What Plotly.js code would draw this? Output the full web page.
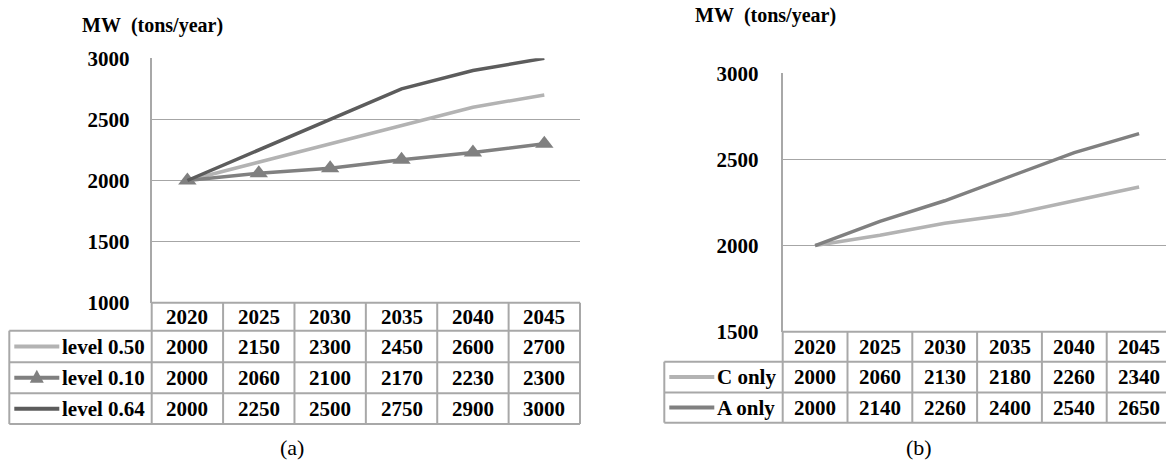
<!DOCTYPE html>
<html>
<head>
<meta charset="utf-8">
<script src="https://cdn.plot.ly/plotly-3.0.1.min.js"></script>
<style>
  html, body { margin: 0; padding: 0; background: #fff; }
  #chart { width: 1166px; height: 464px; }
</style>
</head>
<body>
<div id="chart"></div>
<script>
// Years shared by both panels
const years = ['2020', '2025', '2030', '2035', '2040', '2045'];

// Panel (a): MW under three levels
const seriesA = ['level 0.50', 'level 0.10', 'level 0.64'];
const level050 = [2000, 2150, 2300, 2450, 2600, 2700];
const level010 = [2000, 2060, 2100, 2170, 2230, 2300];
const level064 = [2000, 2250, 2500, 2750, 2900, 3000];

// Panel (b): MW for the single-factor cases
const seriesB = ['C only', 'A only'];
const cOnly = [2000, 2060, 2130, 2180, 2260, 2340];
const aOnly = [2000, 2140, 2260, 2400, 2540, 2650];

// Value axis ticks
const yTicksA = [1000, 1500, 2000, 2500, 3000];
const yTicksB = [1500, 2000, 2500, 3000];

const W = 1166, H = 464;
const px = v => v / W;          // pixel -> paper x
const py = v => 1 - v / H;      // pixel -> paper y

const serif = 'Liberation Serif';
const boldFont = { family: serif, size: 21, color: '#000', weight: 'bold' };
const gridCol = '#a6a6a6';
const tableCol = '#a8a8a8';

const colorsA = ['#b3b3b3', '#808080', '#5c5c5c'];
const colorsB = ['#b3b3b3', '#808080'];

// Panel geometry (pixels)
const A = { left: 151.7, right: 580, top: 58.3, bottom: 302.7,
            rows: [302.7, 330.7, 362.3, 393.3, 424], legLeft: 9.3,
            xr: [-0.5, 5.5], standoff: 16 };
const B = { left: 782.7, right: 1166, top: 73.3, bottom: 331.7,
            rows: [331.7, 361.7, 392.5, 422.7], legLeft: 664.3,
            xr: [-0.5, 5.415], standoff: 18 };
[A, B].forEach(p => {
  p.colW = (p.right - p.left) / (p.xr[1] - p.xr[0]);
});

const traces = [
  { x: years, y: level050, name: seriesA[0], xaxis: 'x', yaxis: 'y', mode: 'lines',
    line: { color: colorsA[0], width: 3.5 } },
  { x: years, y: level010, name: seriesA[1], xaxis: 'x', yaxis: 'y', mode: 'lines+markers',
    line: { color: colorsA[1], width: 3.5 },
    marker: { symbol: 'triangle-up', size: 16, color: colorsA[1] } },
  { x: years, y: level064, name: seriesA[2], xaxis: 'x', yaxis: 'y', mode: 'lines',
    line: { color: colorsA[2], width: 3.5 } },
  { x: years, y: cOnly, name: seriesB[0], xaxis: 'x2', yaxis: 'y2', mode: 'lines',
    line: { color: colorsB[0], width: 3.5 } },
  { x: years, y: aOnly, name: seriesB[1], xaxis: 'x2', yaxis: 'y2', mode: 'lines',
    line: { color: colorsB[1], width: 3.5 } }
];

const shapes = [];
const annotations = [];

function hline(x0, x1, y) {
  shapes.push({ type: 'line', xref: 'paper', yref: 'paper',
    x0: px(x0), x1: px(x1), y0: py(y), y1: py(y),
    line: { color: tableCol, width: 2 } });
}
function vline(x, y0, y1) {
  shapes.push({ type: 'line', xref: 'paper', yref: 'paper',
    x0: px(x), x1: px(x), y0: py(y0), y1: py(y1),
    line: { color: tableCol, width: 2 } });
}

// Data table under a panel: header of years, one row per series.
// Cell text sits on the category axis (index j = column of years[j]).
function buildTable(p, xref, names, data, colors, markers) {
  const rows = p.rows;
  const last = rows[rows.length - 1];
  hline(p.left, Math.min(p.right, W), rows[0]);
  for (let i = 1; i < rows.length; i++) hline(p.legLeft, Math.min(p.right, W), rows[i]);
  vline(p.legLeft, rows[1], last);
  for (let k = 0; k <= years.length; k++) {
    const x = p.left + k * p.colW;
    if (x <= W) vline(x, rows[0], last);
  }
  years.forEach((yr, j) => {
    annotations.push({ xref: xref, yref: 'paper', x: j, y: py((rows[0] + rows[1]) / 2),
      text: yr, showarrow: false, font: boldFont, xanchor: 'center', yanchor: 'middle' });
  });
  names.forEach((nm, i) => {
    const yc = (rows[i + 1] + rows[i + 2]) / 2;
    const sx0 = p.legLeft + 5, sx1 = p.legLeft + 50;
    shapes.push({ type: 'line', xref: 'paper', yref: 'paper',
      x0: px(sx0), x1: px(sx1), y0: py(yc), y1: py(yc),
      line: { color: colors[i], width: 4 } });
    if (markers[i]) {
      const cx = (sx0 + sx1) / 2;
      shapes.push({ type: 'path', xref: 'paper', yref: 'paper',
        path: `M ${px(cx - 7)} ${py(yc + 5)} L ${px(cx + 7)} ${py(yc + 5)} L ${px(cx)} ${py(yc - 8)} Z`,
        fillcolor: colors[i], line: { width: 0 } });
    }
    annotations.push({ xref: 'paper', yref: 'paper', x: px(sx1 + 1), y: py(yc),
      text: nm, showarrow: false, font: boldFont, xanchor: 'left', yanchor: 'middle' });
    data[i].forEach((v, j) => {
      annotations.push({ xref: xref, yref: 'paper', x: j, y: py(yc),
        text: String(v), showarrow: false, font: boldFont, xanchor: 'center', yanchor: 'middle' });
    });
  });
}

buildTable(A, 'x', seriesA, [level050, level010, level064], colorsA, [false, true, false]);
buildTable(B, 'x2', seriesB, [cOnly, aOnly], colorsB, [false, false]);

// Axis titles and panel captions
const titleFont = { family: serif, size: 20, color: '#000', weight: 'bold' };
annotations.push({ xref: 'paper', yref: 'paper', x: px(80), y: py(25), text: 'MW\u00a0 (tons/year)',
  showarrow: false, font: titleFont, xanchor: 'left', yanchor: 'middle' });
annotations.push({ xref: 'paper', yref: 'paper', x: px(693), y: py(15), text: 'MW\u00a0 (tons/year)',
  showarrow: false, font: titleFont, xanchor: 'left', yanchor: 'middle' });
const capFont = { family: serif, size: 22, color: '#000' };
annotations.push({ xref: 'paper', yref: 'paper', x: px(292), y: py(447), text: '(a)',
  showarrow: false, font: capFont, xanchor: 'center', yanchor: 'middle' });
annotations.push({ xref: 'paper', yref: 'paper', x: px(919), y: py(447), text: '(b)',
  showarrow: false, font: capFont, xanchor: 'center', yanchor: 'middle' });

function xAxis(p) {
  return { domain: [px(p.left), px(p.right)], range: p.xr, type: 'category',
    categoryorder: 'array', categoryarray: years,
    showticklabels: false, showgrid: false, zeroline: false, showline: false,
    ticks: '', fixedrange: true };
}
function yAxis(p, ticks, xa) {
  return { domain: [py(p.bottom), py(p.top)], range: [ticks[0], ticks[ticks.length - 1]],
    tickvals: ticks, ticktext: ticks.map(String), anchor: xa,
    showgrid: true, gridcolor: gridCol, gridwidth: 1.5,
    showline: true, linecolor: tableCol, linewidth: 2,
    zeroline: false, ticks: '', ticklabelstandoff: p.standoff,
    tickfont: boldFont, fixedrange: true };
}

const layout = {
  width: W, height: H, autosize: false,
  margin: { l: 0, r: 0, t: 0, b: 0 },
  paper_bgcolor: '#fff', plot_bgcolor: 'rgba(0,0,0,0)',
  showlegend: false,
  font: { family: serif },
  xaxis: Object.assign(xAxis(A), { anchor: 'y' }),
  yaxis: yAxis(A, yTicksA, 'x'),
  xaxis2: Object.assign(xAxis(B), { anchor: 'y2' }),
  yaxis2: yAxis(B, yTicksB, 'x2'),
  shapes: shapes,
  annotations: annotations
};

Plotly.newPlot('chart', traces, layout, { displayModeBar: false, staticPlot: true });
</script>
</body>
</html>
